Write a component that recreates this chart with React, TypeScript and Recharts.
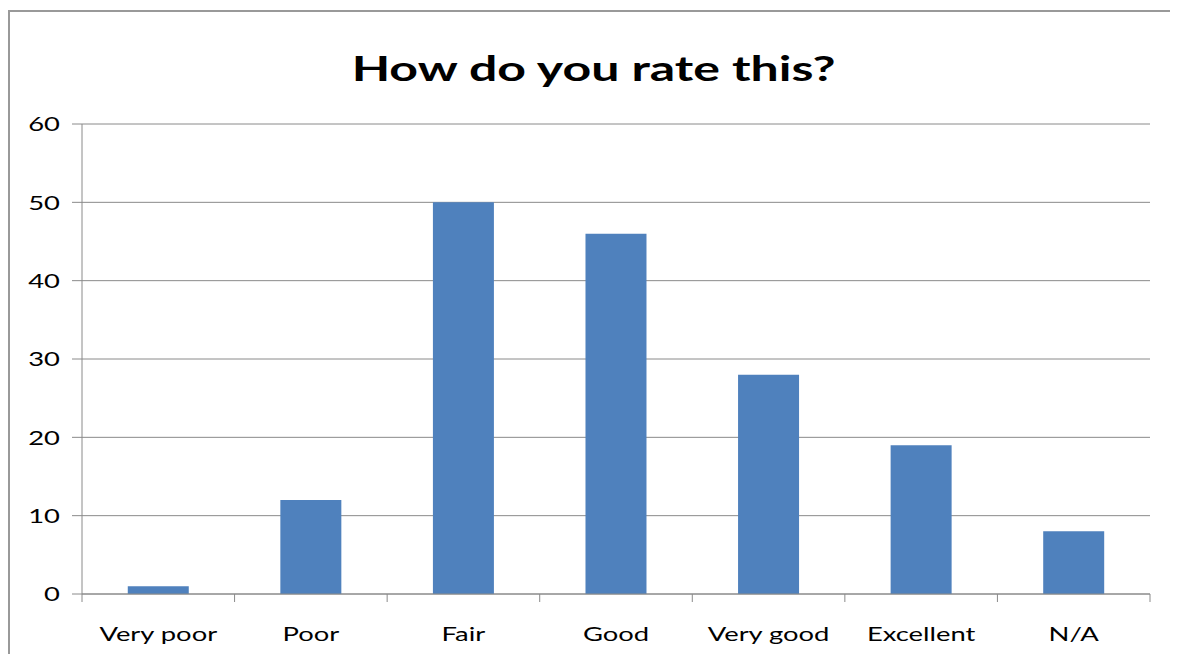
import React from "react";
import { BarChart, Bar, XAxis, YAxis, CartesianGrid } from "recharts";

const categories = ["Very poor", "Poor", "Fair", "Good", "Very good", "Excellent", "N/A"];
const ratings = [1, 12, 50, 46, 28, 19, 8];
const yTicks = [0, 10, 20, 30, 40, 50, 60];

const data = categories.map((name, i) => ({ name, value: ratings[i] }));

const FONT = "Lato, 'Open Sans', sans-serif";
const LINE = "#8a8a8a";
const SX = 1.37;
const TITLE_SX = 1.47;

const XTick = (props: any) => {
  const { x, y, payload, index, visibleTicksCount } = props;
  const half = payload.offset || 0;
  const last = index === (visibleTicksCount ?? 7) - 1;
  return (
    <g>
      <line x1={x - half} x2={x - half} y1={y} y2={y + 8} stroke={LINE} strokeWidth={1} />
      {last ? <line x1={x + half} x2={x + half} y1={y} y2={y + 8} stroke={LINE} strokeWidth={1} /> : null}
      <text
        transform={`translate(${x},${y + 47}) scale(${SX},1)`}
        textAnchor="middle"
        fontFamily={FONT}
        fontSize={20}
        fill="#000"
      >
        {payload.value}
      </text>
    </g>
  );
};

const YTick = (props: any) => {
  const { x, y, payload } = props;
  return (
    <text
      transform={`translate(${x},${y}) scale(${SX},1)`}
      textAnchor="end"
      dy="0.36em"
      fontFamily={FONT}
      fontSize={20}
      fill="#000"
    >
      {payload.value}
    </text>
  );
};

export default function App() {
  return (
    <div style={{ position: "relative", width: 1162, height: 646, background: "#fff", overflow: "hidden" }}>
      <div
        style={{
          position: "absolute",
          left: 0,
          top: 2,
          width: 1162,
          height: 700,
          borderTop: `2px solid #999`,
          borderLeft: `2px solid #999`,
          boxSizing: "border-box",
        }}
      />
      <div
        style={{
          position: "absolute",
          left: 0,
          width: 1170,
          top: 40,
          textAlign: "center",
          fontFamily: FONT,
          fontWeight: 700,
          fontSize: 34,
          lineHeight: "40px",
          color: "#000",
        }}
      >
        <span style={{ display: "inline-block", transform: `scaleX(${TITLE_SX})`, transformOrigin: "center", position: "relative", left: 1 }}>
          How do you rate this?
        </span>
      </div>
      <div style={{ position: "absolute", left: 0, top: 0 }}>
        <BarChart
          width={1162}
          height={646}
          data={data}
          margin={{ top: 116, right: 20, left: 0, bottom: 0 }}
          barCategoryGap="30%"
        >
          <CartesianGrid vertical={false} stroke={LINE} strokeWidth={1} />
          <XAxis
            dataKey="name"
            height={60}
            tickLine={false}
            tickSize={0}
            tickMargin={0}
            axisLine={{ stroke: LINE }}
            tick={<XTick />}
            interval={0}
          />
          <YAxis
            width={74}
            domain={[0, 60]}
            ticks={yTicks}
            tickSize={10}
            tickMargin={12}
            tickLine={{ stroke: LINE }}
            axisLine={{ stroke: LINE }}
            tick={<YTick />}
            interval={0}
          />
          <Bar dataKey="value" fill="#4F81BD" isAnimationActive={false} />
        </BarChart>
      </div>
    </div>
  );
}
